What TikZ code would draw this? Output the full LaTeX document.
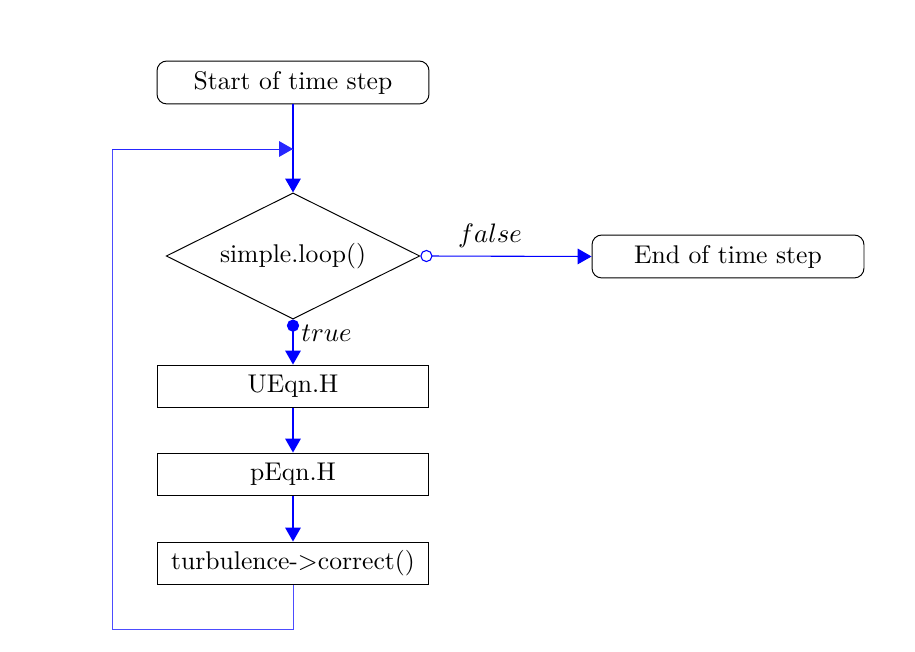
\documentclass[tikz,border=0pt]{standalone}
\usetikzlibrary{shapes.geometric,arrows.meta}
\begin{document}
\begin{tikzpicture}[x=0.41pt,y=-0.41pt,
  every node/.style={font=\fontsize{10.5pt}{12.6pt}\selectfont},
  termbox/.style={draw=black,rounded corners=4pt,minimum width=111.5pt,minimum height=17.6pt,inner sep=0pt},
  procbox/.style={draw=black,minimum width=111.5pt,minimum height=17.6pt,inner sep=0pt},
  decbox/.style={draw=black,diamond,aspect=2,minimum width=104pt,minimum height=51.7pt,inner sep=0pt},
  flow/.style={draw=blue,line width=0.45pt,-{Triangle[length=5.7pt,width=6.4pt]}},
  loopline/.style={draw=blue!70,line width=0.4pt}]
\useasboundingbox (0,0) rectangle (915,652);
\node[termbox] (start) at (293,82.5) {Start of time step};
\node[decbox] (loop) at (293,256) {simple.loop()};
\node[termbox] (end) at (728,256.5) {End of time step};
\node[procbox] (ueqn) at (293,386.5) {UEqn.H};
\node[procbox] (peqn) at (293,474.5) {pEqn.H};
\node[procbox] (turb) at (293,563.5) {turbulence->correct()};
\coordinate (j) at (293,149);
\coordinate (c1) at (293,629);
\coordinate (c2) at (112,629);
\coordinate (c3) at (112,149);
\draw[flow] (start) -- (loop);
\draw[flow,{Circle[open,length=5pt]}-{Triangle[length=5.7pt,width=6.4pt]}] (loop.east) -- (end.west);
\node[inner sep=0pt] (falselbl) at (490,236) {$false$};
\draw[flow,{Circle[length=5pt]}-{Triangle[length=5.7pt,width=6.4pt]}] (loop.south) -- (ueqn.north);
\node[anchor=west,inner sep=0pt] (truelbl) at (301,333) {$true$};
\draw[flow] (ueqn) -- (peqn);
\draw[flow] (peqn) -- (turb);
\draw[loopline] (turb.south) -- (c1) -- (c2) -- (c3) -- (j);
\draw[flow,line width=0.4pt,draw=blue!85] (c3) -- (j);
\end{tikzpicture}
\end{document}
